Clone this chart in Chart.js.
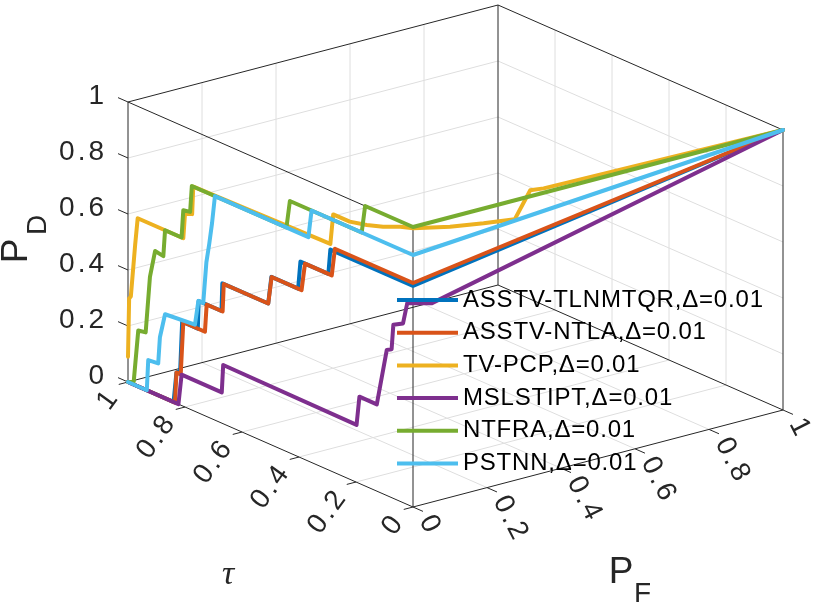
<!DOCTYPE html>
<html>
<head>
<meta charset="utf-8">
<script src="https://cdn.jsdelivr.net/npm/chart.js@4.4.1/dist/chart.umd.min.js"></script>
<style>
  html, body { margin: 0; padding: 0; background: #fff; }
</style>
</head>
<body>
<canvas id="myChart" width="819" height="607"></canvas>
<script>
// Legend names and colours (MATLAB default order)
const methods = ['ASSTV-TLNMTQR', 'ASSTV-NTLA', 'TV-PCP', 'MSLSTIPT', 'NTFRA', 'PSTNN'];
const deltaLabel = 'Δ=0.01';
const colors = ['#0072BD', '#D95319', '#EDB120', '#7E2F8E', '#77AC30', '#4DBEEE'];
const tickVals = [0, 0.2, 0.4, 0.6, 0.8, 1];
const tickText = ['0', '0.2', '0.4', '0.6', '0.8', '1'];

// 3D ROC curves: threshold tau, false alarm PF, detection PD
const tauTLNMTQR = [1, 0.84, 0.83, 0.817, 0.81, 0.755, 0.752, 0.672, 0.669, 0.508, 0.497, 0.403, 0.395, 0.297, 0.29, 0, 0];
const pfTLNMTQR  = [0, 0, 0, 0, 0, 0, 0, 0, 0, 0, 0, 0, 0, 0, 0, 0, 1];
const pdTLNMTQR  = [0, 0, 0.11, 0.12, 0.30, 0.30, 0.40, 0.40, 0.50, 0.50, 0.60, 0.60, 0.70, 0.70, 0.79, 0.79, 1];

const tauNTLA = [1, 0.835, 0.83, 0.815, 0.806, 0.73, 0.724, 0.668, 0.664, 0.508, 0.496, 0.391, 0.379, 0.285, 0.274, 0, 0];
const pfNTLA  = [0, 0, 0, 0, 0, 0, 0, 0, 0, 0, 0, 0, 0, 0, 0, 0, 1];
const pdNTLA  = [0, 0, 0.11, 0.11, 0.30, 0.30, 0.40, 0.40, 0.50, 0.50, 0.60, 0.60, 0.70, 0.70, 0.80, 0.80, 1];

const tauTVPCP = [1, 0.996, 0.99, 0.975, 0.966, 0.806, 0.80, 0.775, 0.771, 0.29, 0.28, 0.222, 0.183, 0.153, 0.13, 0.105, 0.065, 0.038, 0.017, 0.03, 0.022, 0];
const pfTVPCP  = [0, 0, 0, 0, 0, 0, 0, 0, 0, 0, 0, 0, 0.016, 0.037, 0.066, 0.082, 0.15, 0.22, 0.288, 0.34, 0.37, 1];
const pdTVPCP  = [0.09, 0.30, 0.31, 0.50, 0.60, 0.60, 0.69, 0.70, 0.80, 0.81, 0.92, 0.92, 0.92, 0.92, 0.92, 0.92, 0.92, 0.92, 0.92, 1, 1, 1];

const tauMSLSTIPT = [1, 0.823, 0.812, 0.671, 0.666, 0.198, 0.188, 0.127, 0.092, 0.075, 0.069, 0.035, 0.02, 0, 0];
const pfMSLSTIPT  = [0, 0, 0, 0, 0, 0, 0, 0, 0, 0, 0, 0, 0, 0.05, 1];
const pdMSLSTIPT  = [0, 0, 0.11, 0.11, 0.21, 0.205, 0.31, 0.31, 0.52, 0.53, 0.62, 0.64, 0.72, 0.71, 1];

const tauNTFRA = [1, 0.98, 0.964, 0.938, 0.923, 0.905, 0.876, 0.87, 0.812, 0.806, 0.782, 0.776, 0.444, 0.432, 0.18, 0.168, 0, 0];
const pfNTFRA  = [0, 0, 0, 0, 0, 0, 0, 0, 0, 0, 0, 0, 0, 0, 0, 0, 0, 1];
const pdNTFRA  = [0, 0.01, 0.20, 0.205, 0.41, 0.51, 0.505, 0.60, 0.60, 0.70, 0.705, 0.80, 0.80, 0.90, 0.90, 1, 1, 1];

const tauPSTNN = [1, 0.934, 0.929, 0.894, 0.888, 0.87, 0.765, 0.753, 0.736, 0.725, 0.715, 0.705, 0.695, 0.367, 0.356, 0, 0];
const pfPSTNN  = [0, 0, 0, 0, 0, 0, 0, 0, 0, 0, 0, 0, 0, 0, 0, 0, 1];
const pdPSTNN  = [0, 0, 0.11, 0.114, 0.21, 0.30, 0.31, 0.40, 0.40, 0.55, 0.62, 0.70, 0.80, 0.80, 0.90, 0.90, 1];

const curves = [
  [pfTLNMTQR, tauTLNMTQR, pdTLNMTQR],
  [pfNTLA, tauNTLA, pdNTLA],
  [pfTVPCP, tauTVPCP, pdTVPCP],
  [pfMSLSTIPT, tauMSLSTIPT, pdMSLSTIPT],
  [pfNTFRA, tauNTFRA, pdNTFRA],
  [pfPSTNN, tauPSTNN, pdPSTNN]
];

// view of the 3D box (origin = PF 0, tau 0, PD 0), in scale units
const view = { ox: 413, oy: 507, pfx: 370, pfy: -97, tx: -285, ty: -125, pdy: -280 };

function proj(pf, tau, pd) {
  return {
    x: view.ox + view.pfx * pf + view.tx * tau,
    y: view.oy + view.pfy * pf + view.ty * tau + view.pdy * pd
  };
}

function px(chart, p) {
  return { x: chart.scales.x.getPixelForValue(p.x), y: chart.scales.y.getPixelForValue(p.y) };
}

function seg(ctx, chart, a, b) {
  const p = px(chart, proj(a[0], a[1], a[2]));
  const q = px(chart, proj(b[0], b[1], b[2]));
  ctx.beginPath();
  ctx.moveTo(p.x, p.y);
  ctx.lineTo(q.x, q.y);
  ctx.stroke();
}

function txt(ctx, s, x, y, o) {
  ctx.save();
  ctx.translate(x, y);
  if (o.rot) ctx.rotate(o.rot * Math.PI / 180);
  ctx.font = o.font;
  ctx.fillStyle = o.color || '#262626';
  ctx.textAlign = o.align || 'center';
  ctx.textBaseline = 'middle';
  if ('letterSpacing' in ctx) ctx.letterSpacing = (o.ls || 0) + 'px';
  ctx.fillText(s, 0, 0);
  ctx.restore();
}

// box, grid, ticks and axis labels
const boxPlugin = {
  id: 'box3d',
  beforeDatasetsDraw(chart) {
    const ctx = chart.ctx;
    ctx.save();
    ctx.lineWidth = 1;
    ctx.strokeStyle = '#dedede';
    tickVals.slice(1, -1).forEach(v => {
      // back wall tau = 1
      seg(ctx, chart, [v, 1, 0], [v, 1, 1]);
      seg(ctx, chart, [0, 1, v], [1, 1, v]);
      // back wall PF = 1
      seg(ctx, chart, [1, v, 0], [1, v, 1]);
      seg(ctx, chart, [1, 0, v], [1, 1, v]);
      // floor
      seg(ctx, chart, [v, 0, 0], [v, 1, 0]);
      seg(ctx, chart, [0, v, 0], [1, v, 0]);
    });
    ctx.strokeStyle = '#262626';
    const c = [[0, 0], [1, 0], [1, 1], [0, 1]];
    for (let i = 0; i < 4; i++) {
      const a = c[i], b = c[(i + 1) % 4];
      seg(ctx, chart, [a[0], a[1], 0], [b[0], b[1], 0]);
      seg(ctx, chart, [a[0], a[1], 1], [b[0], b[1], 1]);
      seg(ctx, chart, [a[0], a[1], 0], [a[0], a[1], 1]);
    }
    // tick marks
    tickVals.forEach(v => {
      seg(ctx, chart, [0, 1, v], [0, 1.035, v]);
      seg(ctx, chart, [0, v, 0], [-0.025, v, 0]);
      seg(ctx, chart, [v, 0, 0], [v, -0.035, 0]);
    });
    ctx.restore();

    const f = '28px "Liberation Sans", Arial, sans-serif';
    tickVals.forEach((v, i) => {
      const pd = px(chart, proj(0, 1, v));
      txt(ctx, tickText[i], pd.x - 21, pd.y - 6, { font: f, align: 'right', ls: 3 });
      const t = px(chart, proj(0, v, 0));
      txt(ctx, tickText[i], t.x - 14, t.y + 10, { font: f, align: 'right', rot: -54, ls: 3 });
      const p = px(chart, proj(v, 0, 0));
      txt(ctx, tickText[i], p.x + 13, p.y + 10, { font: f, align: 'left', rot: 63, ls: 3 });
    });

    const big = '37px "Liberation Sans", Arial, sans-serif';
    const sub = '28px "Liberation Sans", Arial, sans-serif';
    txt(ctx, 'P', 16.5, 251, { font: big, rot: -90 });
    txt(ctx, 'D', 38, 225, { font: sub, rot: -90 });
    txt(ctx, 'P', 621, 573, { font: big });
    txt(ctx, 'F', 642.5, 594, { font: sub });
    txt(ctx, 'τ', 228, 575, { font: 'italic 34px "Liberation Serif", serif' });
  },
  afterDraw(chart) {
    const ctx = chart.ctx;
    ctx.save();
    methods.forEach((m, i) => {
      const y = 300 + i * 32.7;
      ctx.strokeStyle = colors[i];
      ctx.lineWidth = 4;
      ctx.beginPath();
      ctx.moveTo(397, y);
      ctx.lineTo(458, y);
      ctx.stroke();
      txt(ctx, m + ',' + deltaLabel, 463, y, { font: '24px "Liberation Sans", Arial, sans-serif', align: 'left', color: '#000', ls: 0.8 });
    });
    ctx.restore();
  }
};

const datasets = curves.map((c, i) => ({
  label: methods[i],
  data: c[0].map((pf, k) => proj(pf, c[1][k], c[2][k])),
  showLine: true,
  borderColor: colors[i],
  backgroundColor: colors[i],
  borderWidth: 4,
  borderJoinStyle: 'round',
  borderCapStyle: 'round',
  pointRadius: 0,
  tension: 0,
  order: methods.length - i
}));

new Chart(document.getElementById('myChart'), {
  type: 'scatter',
  data: { datasets: datasets },
  options: {
    responsive: false,
    animation: false,
    devicePixelRatio: 1,
    layout: { padding: 0 },
    plugins: { legend: { display: false }, tooltip: { enabled: false } },
    scales: {
      x: { type: 'linear', min: 0, max: 819, display: false },
      y: { type: 'linear', min: 0, max: 607, reverse: true, display: false }
    }
  },
  plugins: [boxPlugin]
});
</script>
</body>
</html>
